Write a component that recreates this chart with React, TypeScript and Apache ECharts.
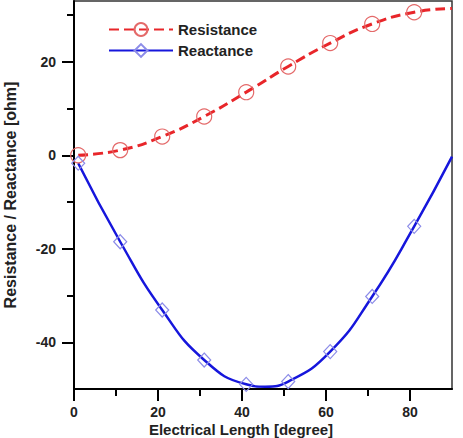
import React, { useEffect, useRef } from "react";
import * as echarts from "echarts";

// Electrical length (degree) where the markers sit
const markerDegrees = [1, 11, 21, 31, 41, 51, 61, 71, 81];
// Resistance [ohm] at each marker
const resistance = [0.0, 1.1, 4.0, 8.3, 13.5, 19.0, 24.0, 28.1, 30.6];
// Reactance [ohm] at each marker
const reactance = [-1.7, -18.5, -33.1, -43.8, -49.0, -48.4, -42.0, -30.2, -15.2];
// Extra curve points without markers: [degree, ohm]
const resistanceExtra = [[90, 31.4]];
const reactanceExtra = [[45.5, -49.5], [90, -0.3]];

const xMajorTicks = [0, 20, 40, 60, 80];
const xMinorTicks = [10, 30, 50, 70];
const yMajorTicks = [-40, -20, 0, 20];
const yMinorTicks = [-30, -10, 10, 30];

const FONT = "'Liberation Sans', Arial, Helvetica, sans-serif";

function buildSeriesData(xs: number[], ys: number[], extra: number[][]) {
  const pts: any[] = xs.map((x, i) => ({ value: [x, ys[i]] }));
  extra.forEach((p) => pts.push({ value: p, symbol: "none" }));
  pts.sort((a, b) => a.value[0] - b.value[0]);
  return pts;
}

export default function App() {
  const ref = useRef<HTMLDivElement>(null);

  useEffect(() => {
    if (!ref.current) return;
    const chart = echarts.init(ref.current, null, { renderer: "svg" });

    const tickLine = { color: "#000", width: 2 };
    const minorAxisCommon = {
      axisLine: { show: false, onZero: false },
      axisLabel: { show: false },
      splitLine: { show: false },
    };

    chart.setOption({
      animation: false,
      backgroundColor: "#ffffff",
      textStyle: { fontFamily: FONT },
      grid: {
        left: 74,
        right: 11,
        top: 1,
        bottom: 49,
        outerBoundsMode: "none",
        containLabel: false,
        show: true,
        borderColor: "#333333",
        borderWidth: 1.5,
        backgroundColor: "transparent",
      },
      legend: {
        orient: "vertical",
        left: 103,
        top: 17,
        itemWidth: 64,
        itemHeight: 16,
        itemGap: 6,
        textStyle: { fontFamily: FONT, fontWeight: "bold", fontSize: 15, color: "#222" },
        data: ["Resistance", "Reactance"],
      },
      xAxis: [
        {
          type: "value",
          min: 0,
          max: 90,
          name: "Electrical Length [degree]",
          nameLocation: "middle",
          nameGap: 40,
          nameMoveOverlap: false,
          nameTextStyle: {
            fontFamily: FONT,
            fontWeight: "bold",
            fontSize: 15,
            color: "#222",
            verticalAlign: "middle",
            padding: [0, 44, 0, 0],
          },
          axisLine: { show: true, onZero: false, lineStyle: { color: "#000", width: 2 } },
          axisTick: { show: true, customValues: xMajorTicks, length: 12, lineStyle: tickLine },
          axisLabel: {
            customValues: xMajorTicks,
            margin: 16,
            fontFamily: FONT,
            fontWeight: "bold",
            fontSize: 14,
            color: "#222",
          },
          splitLine: { show: false },
        },
        {
          type: "value",
          min: 0,
          max: 90,
          position: "bottom",
          ...minorAxisCommon,
          axisTick: { show: true, customValues: xMinorTicks, length: 7, lineStyle: tickLine },
        },
      ],
      yAxis: [
        {
          type: "value",
          min: -50,
          max: 33,
          name: "Resistance / Reactance [ohm]",
          nameLocation: "middle",
          nameGap: 56,
          nameMoveOverlap: false,
          nameTextStyle: { fontFamily: FONT, fontWeight: "bold", fontSize: 16, color: "#222" },
          axisLine: { show: true, onZero: false, lineStyle: { color: "#000", width: 2 } },
          axisTick: { show: true, customValues: yMajorTicks, length: 12, lineStyle: tickLine },
          axisLabel: {
            customValues: yMajorTicks,
            margin: 18,
            fontFamily: FONT,
            fontWeight: "bold",
            fontSize: 14,
            color: "#222",
          },
          splitLine: { show: false },
        },
        {
          type: "value",
          min: -50,
          max: 33,
          position: "left",
          ...minorAxisCommon,
          axisTick: { show: true, customValues: yMinorTicks, length: 7, lineStyle: tickLine },
        },
      ],
      series: [
        {
          name: "Resistance",
          type: "line",
          smooth: true,
          data: buildSeriesData(markerDegrees, resistance, resistanceExtra),
          symbol: "circle",
          symbolSize: 15,
          showAllSymbol: true,
          lineStyle: { color: "#e8262a", width: 3, type: [10, 5] },
          itemStyle: { color: "rgba(0,0,0,0)", borderColor: "#e46a6a", borderWidth: 1.2 },
          z: 3,
        },
        {
          name: "Reactance",
          type: "line",
          smooth: true,
          data: buildSeriesData(markerDegrees, reactance, reactanceExtra),
          symbol: "diamond",
          symbolSize: [13, 14],
          showAllSymbol: true,
          lineStyle: { color: "#1616dc", width: 2.5 },
          itemStyle: { color: "rgba(0,0,0,0)", borderColor: "#8c8ce8", borderWidth: 1.2 },
          z: 3,
        },
      ],
    });

    return () => chart.dispose();
  }, []);

  return (
    <div
      ref={ref}
      style={{ position: "absolute", left: 0, top: 0, width: 463, height: 438 }}
    />
  );
}
